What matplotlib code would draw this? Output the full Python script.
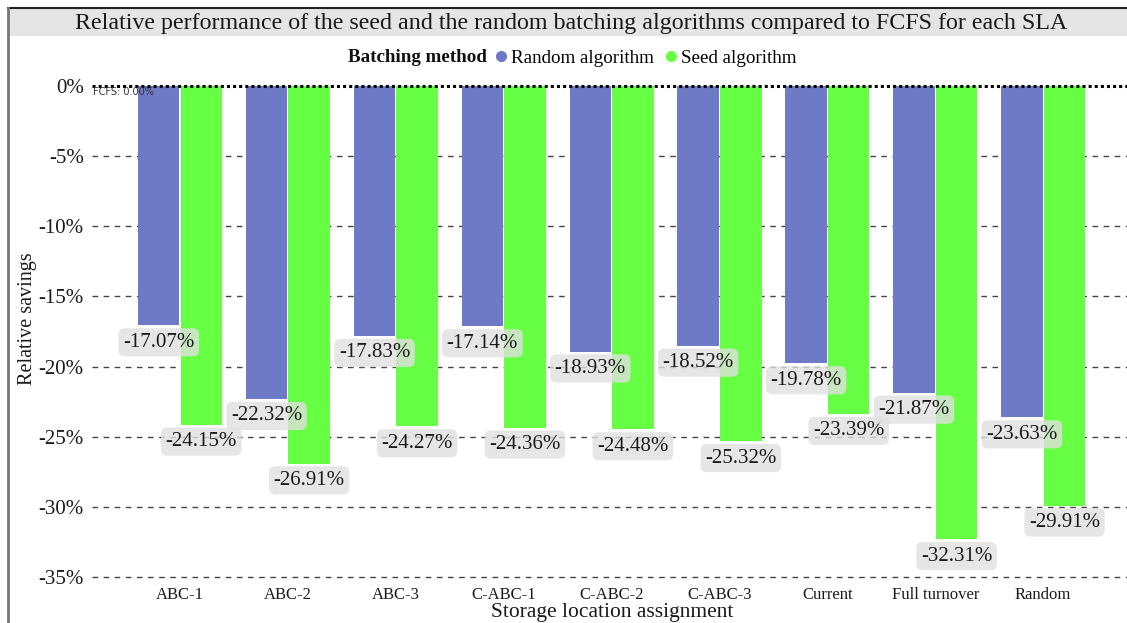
import matplotlib
matplotlib.use("Agg")
import matplotlib.pyplot as plt
from matplotlib.lines import Line2D
from matplotlib.patches import Rectangle
import numpy as np

categories = ["ABC-1", "ABC-2", "ABC-3", "C-ABC-1", "C-ABC-2", "C-ABC-3",
              "Current", "Full turnover", "Random"]
random_alg = [-17.07, -22.32, -17.83, -17.14, -18.93, -18.52, -19.78, -21.87, -23.63]
seed_alg = [-24.15, -26.91, -24.27, -24.36, -24.48, -25.32, -23.39, -32.31, -29.91]
y_ticks = [0, -5, -10, -15, -20, -25, -30, -35]

BLUE = "#6f7ac6"
GREEN = "#66ff44"
SERIF = ["Liberation Serif", "DejaVu Serif"]

W, H = 1127, 623
fig = plt.figure(figsize=(W / 100, H / 100), dpi=100)
plt.rcParams["font.family"] = SERIF

def fx(px):
    return px / W

def fy(py):
    return 1 - py / H

# frame and title band
fig.patches.append(Rectangle((fx(9), fy(36)), fx(W - 9), fy(9) - fy(36),
                             transform=fig.transFigure, facecolor="#e5e5e5",
                             edgecolor="none", zorder=0))
fig.add_artist(Line2D([fx(8), 1], [fy(8), fy(8)], transform=fig.transFigure,
                      color="#222222", lw=1.5))
fig.add_artist(Line2D([fx(8), fx(8)], [fy(8), 0], transform=fig.transFigure,
                      color="#777777", lw=2))
fig.text(fx(571.5), fy(23), "Relative performance of the seed and the random batching "
         "algorithms compared to FCFS for each SLA", ha="center", va="center",
         fontsize=17.3, color="#1a1a1a")

# plot area
ax_left, ax_right, ax_top, ax_bot = 92, 1127, 86, 577
ax = fig.add_axes([fx(ax_left), fy(ax_bot), fx(ax_right - ax_left), fy(ax_top) - fy(ax_bot)])
step = 107.9
x0 = 180
ax.set_xlim((ax_left - x0) / step, (ax_right - x0) / step)
ax.set_ylim(-35, 0)
for s in ax.spines.values():
    s.set_visible(False)

x = np.arange(len(categories))
bw = 0.385
off = 0.1975
ax.bar(x - off, random_alg, width=bw, color=BLUE, zorder=2)
ax.bar(x + off, seed_alg, width=bw, color=GREEN, zorder=2)

for t in y_ticks[1:]:
    ax.axhline(t, color="#444444", lw=1.0, ls=(0, (4, 4)), zorder=1, clip_on=False)
ax.axhline(0, color="black", lw=2.2, ls=(0, (1, 1)), zorder=4, clip_on=False)
ax.text((ax_left + 1 - x0) / step, -0.4, "FCFS: 0.00%", fontsize=7,
        family=["DejaVu Sans"], color="#333333", va="center", ha="left", zorder=5)

box = dict(boxstyle="round,pad=0.22,rounding_size=0.3", facecolor="#e0e0e0",
           edgecolor="none", alpha=0.8)
for i in range(len(categories)):
    for xv, v in ((x[i] - off, random_alg[i]), (x[i] + off, seed_alg[i])):
        ax.text(xv, v - 1.2, f"{v:.2f}%", ha="center", va="center", fontsize=15,
                color="#1a1a1a", bbox=box, zorder=6)

ax.set_yticks(y_ticks)
ax.set_yticklabels([f"{t}%" for t in y_ticks], fontsize=15, color="#1a1a1a")
ax.set_xticks(x)
ax.set_xticklabels(categories, fontsize=12, color="#1a1a1a")
ax.tick_params(axis="both", length=0)
ax.tick_params(axis="y", pad=6)
ax.tick_params(axis="x", pad=7)

fig.text(fx(612), fy(613), "Storage location assignment", ha="center", va="center",
         fontsize=15.5, color="#1a1a1a")
fig.text(fx(28), fy(319), "Relative savings", ha="center", va="center",
         rotation=90, fontsize=14.5, color="#1a1a1a")

# legend
handles = [Line2D([], [], ls="none", marker="o", ms=7, color=BLUE),
           Line2D([], [], ls="none", marker="o", ms=7, color=GREEN)]
leg = fig.legend(handles, ["Random algorithm", "Seed algorithm"], loc="center",
                 bbox_to_anchor=(fx(644), fy(58)), ncol=2, frameon=False,
                 fontsize=13.7, handletextpad=0.0, columnspacing=0.4,
                 handlelength=1.0, borderaxespad=0)
fig.text(fx(487), fy(58), "Batching method", ha="right", va="center",
         fontsize=13.7, fontweight="bold", color="#111111")

fig.savefig("out.png", dpi=100)
